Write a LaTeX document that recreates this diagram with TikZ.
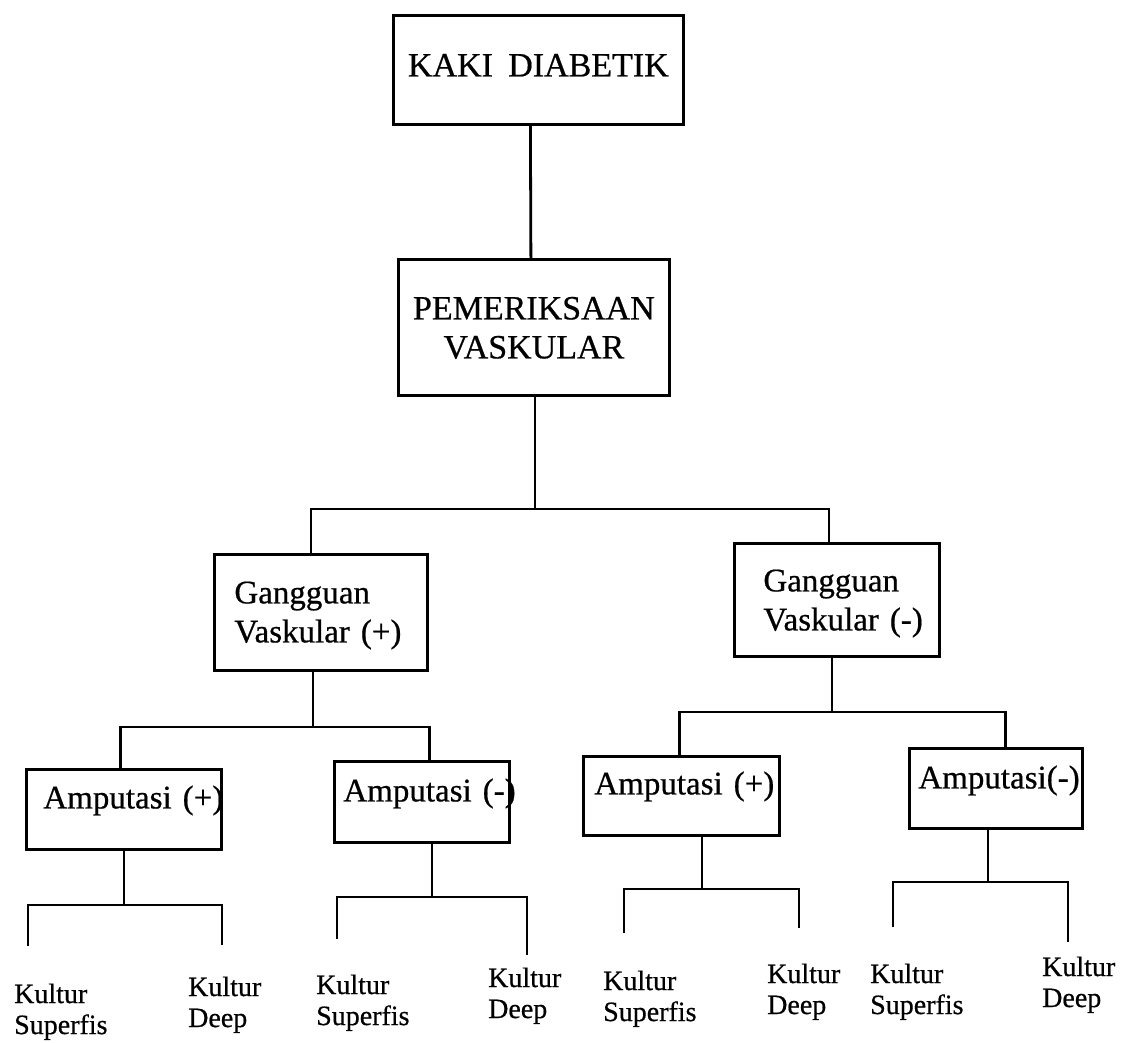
\documentclass[tikz,border=0pt]{standalone}
\usepackage{fontspec}
\setmainfont{Liberation Serif}[FakeBold=0.6]
\newcommand{\bigfont}{\fontsize{34}{39}\selectfont}
\newcommand{\midfont}{\fontsize{33}{39}\selectfont}
\newcommand{\smallfont}{\fontsize{28}{31}\selectfont}
\begin{document}
\begin{tikzpicture}[x=1pt,y=-1pt,
  box/.style={draw, line width=2.8pt, inner ysep=0pt, anchor=north west, align=left, font=\midfont},
  conn/.style={line width=2.8pt},
  leaf/.style={anchor=base west, inner sep=0pt, align=left, text width=110pt, font=\smallfont}]
\useasboundingbox (0,0) rectangle (1124,1042);

% boxes
\node[box, font=\bigfont, align=center, inner xsep=5pt, text width=280pt, text height=61pt, text depth=48pt] (K) at (392,14) {KAKI\hspace{4pt} DIABETIK};
\node[box, font=\bigfont, align=center, inner xsep=5pt, text width=261pt, text height=60pt, text depth=76pt] (PEM) at (397,258) {PEMERIKSAAN\\VASKULAR};
\node[box, inner xsep=20pt, text width=173pt, text height=49pt, text depth=67pt] (GP) at (213,553) {Gangguan\\\mbox{Vaskular (+)}};
\node[box, inner xsep=29pt, text width=147pt, text height=48pt, text depth=65pt] (GM) at (733,542) {Gangguan\\\mbox{Vaskular (-)}};
\node[box, inner xsep=17pt, text width=161pt, text height=39pt, text depth=41pt] (AL1) at (25,768) {\mbox{Amputasi (+)}};
\node[box, inner xsep=9pt, text width=157pt, text height=40pt, text depth=41pt] (AL2) at (333,760) {\mbox{Amputasi (-)}};
\node[box, inner xsep=11pt, text width=174pt, text height=38pt, text depth=41pt] (AR1) at (582,755) {\mbox{Amputasi (+)}};
\node[box, inner xsep=9pt, text width=155pt, text height=40pt, text depth=40pt] (AR2) at (908,747) {\mbox{Amputasi(-)}};

% leaves
\node[leaf] (k1) at (14,1003) {Kultur\\Superfis};
\node[leaf] (k2) at (188,996) {Kultur\\Deep};
\node[leaf] (k3) at (316,994) {Kultur\\Superfis};
\node[leaf] (k4) at (488,987) {Kultur\\Deep};
\node[leaf] (k5) at (603,990) {Kultur\\Superfis};
\node[leaf] (k6) at (767,983) {Kultur\\Deep};
\node[leaf] (k7) at (870,983) {Kultur\\Superfis};
\node[leaf] (k8) at (1042,976) {Kultur\\Deep};

% junctions and free ends
\coordinate (j1) at (535,509);
\coordinate (j2) at (313,727);
\coordinate (j3) at (832,712);
\coordinate (j4) at (124,905);
\coordinate (j5) at (432,897);
\coordinate (j6) at (702,889);
\coordinate (j7) at (988,882);
\coordinate (e1) at (28,946);  \coordinate (e2) at (222,945);
\coordinate (e3) at (337,939); \coordinate (e4) at (527,955);
\coordinate (e5) at (624,933); \coordinate (e6) at (799,928);
\coordinate (e7) at (893,927); \coordinate (e8) at (1068,942);

% connectors
\draw[conn] ([xshift=-8pt]K.south) -- ([xshift=-3pt]PEM.north);
\draw[conn] (j1 |- PEM.south) -- (j1);
\draw[conn] ([xshift=-10pt]GP.north) |- (j1) -| ([xshift=-8pt]GM.north);
\draw[conn] (j2 |- GP.south) -- (j2);
\draw[conn] ([xshift=-3.5pt]AL1.north) |- (j2) -| ([xshift=7.5pt]AL2.north);
\draw[conn] (j3 |- GM.south) -- (j3);
\draw[conn] ([xshift=-2pt]AR1.north) |- (j3) -| ([xshift=9.5pt]AR2.north);
\draw[conn] (j4 |- AL1.south) -- (j4);
\draw[conn] (e1) |- (j4) -| (e2);
\draw[conn] (j5 |- AL2.south) -- (j5);
\draw[conn] (e3) |- (j5) -| (e4);
\draw[conn] (j6 |- AR1.south) -- (j6);
\draw[conn] (e5) |- (j6) -| (e6);
\draw[conn] (j7 |- AR2.south) -- (j7);
\draw[conn] (e7) |- (j7) -| (e8);
\end{tikzpicture}
\end{document}
